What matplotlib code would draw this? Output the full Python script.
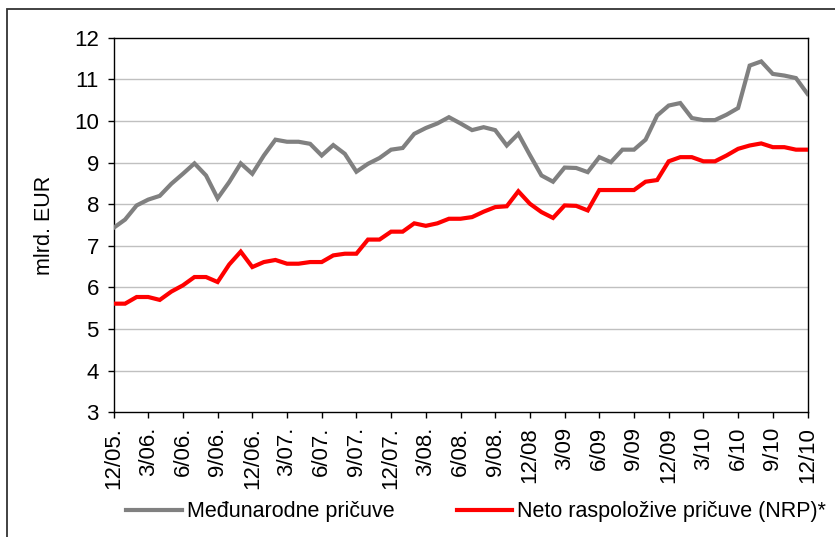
import matplotlib
matplotlib.use("Agg")
import matplotlib.pyplot as plt
from matplotlib.lines import Line2D
from matplotlib.patches import Rectangle

# ---- data (monthly, 12/2005 .. 12/2010), mlrd. EUR --------------------------

MONTHS = list(range(61))
TICK_LABELS = ["12/05.", "3/06.", "6/06.", "9/06.", "12/06.", "3/07.", "6/07.",
               "9/07.", "12/07.", "3/08.", "6/08.", "9/08.", "12/08", "3/09",
               "6/09", "9/09", "12/09", "3/10", "6/10", "9/10", "12/10"]

MEDUNARODNE = [
    7.43, 7.63, 7.97, 8.11, 8.20, 8.49, 8.73, 8.98, 8.69, 8.14,
    8.53, 8.98, 8.73, 9.17, 9.55, 9.50, 9.50, 9.45, 9.17, 9.42,
    9.21, 8.78, 8.97, 9.11, 9.31, 9.35, 9.69, 9.83, 9.94, 10.09,
    9.94, 9.78, 9.85, 9.78, 9.41, 9.69, 9.18, 8.69, 8.54, 8.88,
    8.87, 8.77, 9.13, 9.01, 9.31, 9.31, 9.55, 10.13, 10.37, 10.43,
    10.07, 10.02, 10.02, 10.15, 10.31, 11.33, 11.43, 11.13, 11.09, 11.03,
    10.65,
]

NRP = [
    5.61, 5.61, 5.77, 5.77, 5.70, 5.90, 6.05, 6.25, 6.25, 6.13,
    6.55, 6.86, 6.49, 6.61, 6.66, 6.57, 6.57, 6.61, 6.61, 6.77,
    6.81, 6.81, 7.15, 7.15, 7.34, 7.34, 7.54, 7.48, 7.54, 7.65,
    7.65, 7.69, 7.82, 7.93, 7.95, 8.31, 8.01, 7.81, 7.67, 7.97,
    7.96, 7.85, 8.34, 8.34, 8.34, 8.34, 8.54, 8.58, 9.03, 9.13,
    9.13, 9.03, 9.03, 9.17, 9.33, 9.41, 9.46, 9.37, 9.37, 9.31,
    9.31,
]

C_GREY = "#808080"
C_RED = "#ff0000"
C_GRID = "#c0c0c0"

W, H = 835, 537
plt.rcParams.update({
    "font.family": ["Liberation Sans", "DejaVu Sans"],
    "font.size": 15.5,
})

fig = plt.figure(figsize=(W / 100, H / 100), dpi=100)

# outer chart border (right/bottom edges fall outside the crop)
fig.patches.append(Rectangle((7 / W, -0.1), 1.2, 1.1 - 9 / H,
                             transform=fig.transFigure, fill=False,
                             edgecolor="#333333", linewidth=1.3))

left, right, top, bottom = 113.5, 807.5, 37.7, 412.3
ax = fig.add_axes([left / W, 1 - bottom / H, (right - left) / W, (bottom - top) / H])

ax.plot(MONTHS, MEDUNARODNE, color=C_GREY, linewidth=3, solid_joinstyle="miter", zorder=3)
ax.plot(MONTHS, NRP, color=C_RED, linewidth=3, solid_joinstyle="miter", zorder=3)

ax.set_xlim(0, 60)
ax.set_ylim(3, 12)
ax.set_yticks(range(3, 13))
ax.set_xticks(MONTHS[::3])
ax.set_xticklabels(TICK_LABELS, rotation=90, va="top", ha="center")
ax.tick_params(axis="both", direction="out", length=4.5, width=1, pad=6,
               labelsize=16, color="black")

for v in range(4, 12):
    ax.axhline(v, color=C_GRID, linewidth=1, zorder=1)

for side in ("left", "bottom", "top", "right"):
    ax.spines[side].set_linewidth(1)
    ax.spines[side].set_color("black")

ax.set_ylabel("mlrd. EUR", fontsize=15.5, labelpad=14)

handles = [
    Line2D([0], [0], color=C_GREY, linewidth=3, label="Međunarodne pričuve"),
    Line2D([0], [0], color=C_RED, linewidth=3, label="Neto raspoložive pričuve (NRP)*"),
]
fig.legend(handles=handles, loc="center", bbox_to_anchor=(476 / W, 1 - 512 / H),
           ncol=2, frameon=False, fontsize=15.5, handlelength=2.56,
           handletextpad=0.23, columnspacing=2.9, borderpad=0)

fig.savefig("out.png", dpi=100)
